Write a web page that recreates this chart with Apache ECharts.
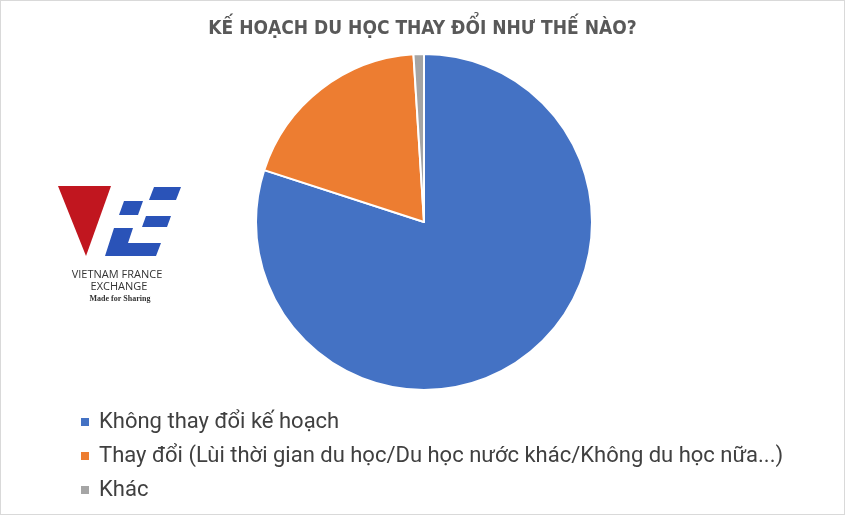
<!DOCTYPE html>
<html><head><meta charset="utf-8">
<script src="https://cdn.jsdelivr.net/npm/echarts@6/dist/echarts.min.js"></script>
<style>html,body{margin:0;padding:0;background:#fff}#c{width:845px;height:515px;box-sizing:border-box;border:1px solid #d9d9d9}</style>
</head><body><div id="c"></div>
<script>
const titleText = 'KẾ HOẠCH DU HỌC THAY ĐỔI NHƯ THẾ NÀO?';
const categories = ['Không thay đổi kế hoạch', 'Thay đổi (Lùi thời gian du học/Du học nước khác/Không du học nữa...)', 'Khác'];
const values = [80, 19, 1];
const colors = ['#4472c4', '#ed7d31', '#a5a5a5'];

const chart = echarts.init(document.getElementById('c'), null, {renderer: 'canvas'});
chart.setOption({
  animation: false,
  backgroundColor: '#fff',
  title: {
    text: titleText, left: 'center', top: 14,
    textStyle: {fontFamily: 'DejaVu Sans Condensed', fontWeight: 'bold', fontSize: 19, color: '#595959'}
  },
  legend: {
    orient: 'vertical', left: 73, top: 405, itemGap: 12,
    icon: 'rect', itemWidth: 10, itemHeight: 10,
    textStyle: {fontFamily: 'Roboto', fontSize: 22, color: '#404040', padding: [0, 0, 0, 4]},
    data: categories
  },
  graphic: [
    {type: 'polygon', shape: {points: [[57,185],[110,185],[85,255]]}, style: {fill: '#c1161f'}},
    {type: 'polygon', shape: {points: [[153,186],[180,186],[175,199],[148,199]]}, style: {fill: '#2a53b8'}},
    {type: 'polygon', shape: {points: [[123,200],[142,200],[137,214],[118,214]]}, style: {fill: '#2a53b8'}},
    {type: 'polygon', shape: {points: [[145,215],[170,215],[166,226],[141,226]]}, style: {fill: '#2a53b8'}},
    {type: 'polygon', shape: {points: [[113,227],[132,227],[127,242],[160,242],[155,255],[104,255]]}, style: {fill: '#2a53b8'}},
    {type: 'text', style: {text: 'VIETNAM FRANCE', x: 116, y: 274, align: 'center', verticalAlign: 'middle', fill: '#333', font: '11px "Open Sans"'}},
    {type: 'text', style: {text: 'EXCHANGE', x: 118, y: 285.5, align: 'center', verticalAlign: 'middle', fill: '#333', font: '11px "Open Sans"'}},
    {type: 'text', style: {text: 'Made for Sharing', x: 119, y: 297.5, align: 'center', verticalAlign: 'middle', fill: '#333', font: 'bold 8px "Liberation Serif"'}}
  ],
  series: [{
    type: 'pie', center: [423, 221], radius: 168, startAngle: 90, clockwise: true,
    label: {show: false}, labelLine: {show: false},
    itemStyle: {borderColor: '#fff', borderWidth: 2},
    emphasis: {disabled: true},
    data: categories.map((n, i) => ({name: n, value: values[i], itemStyle: {color: colors[i]}}))
  }]
});
</script></body></html>
